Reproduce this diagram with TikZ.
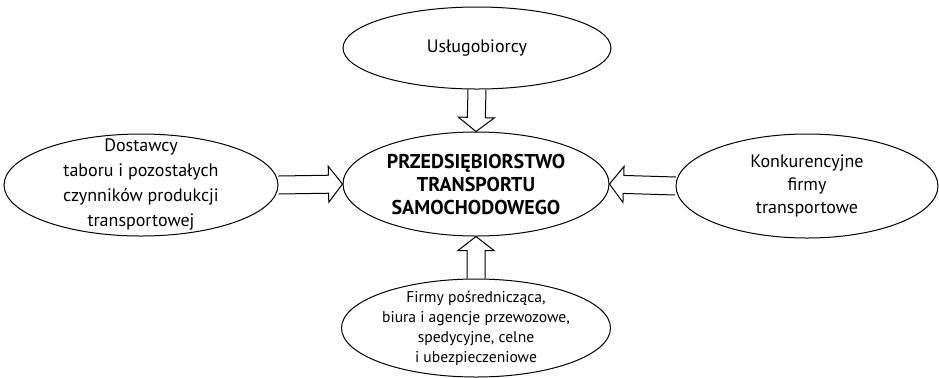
\documentclass[tikz,border=0pt]{standalone}
\usepackage{fontspec}
\setmainfont{PT Sans}
\usetikzlibrary{shapes.geometric,calc}

% hollow block arrow from one node anchor to another
\newcommand{\blockarrow}[2]{%
  \coordinate (headbase) at ($(#2)!7pt!(#1)$);
  \draw[flow] ($(#1)!4.5pt!90:(#2)$) -- ($(headbase)!4.5pt!-90:(#1)$) -- ($(headbase)!9pt!-90:(#1)$) -- (#2)
    -- ($(headbase)!9pt!90:(#1)$) -- ($(headbase)!4.5pt!90:(#1)$) -- ($(#1)!4.5pt!-90:(#2)$);
}

\begin{document}
\begin{tikzpicture}[x=0.5pt, y=-0.5pt,
  oval/.style={ellipse, draw, line width=0.5pt, inner sep=0pt},
  flow/.style={line width=0.5pt, line join=miter},
  txt/.style={align=center, font={\fontsize{9}{12.5}\selectfont}},
  boldtxt/.style={align=center, font={\fontsize{10}{11.5}\selectfont\bfseries}},
  smalltxt/.style={align=center, font={\fontsize{7.8}{10}\selectfont}}]
  \useasboundingbox (0,0) rectangle (939,377);

  % Usługobiorcy
  \node[oval, minimum width=134pt, minimum height=41pt,
    label={[txt]center:Usługobiorcy}] (uslugi) at (477,48) {};

  % Przedsiębiorstwo
  \node[oval, minimum width=133pt, minimum height=52pt,
    label={[boldtxt]center:{PRZEDSIĘBIORSTWO\\TRANSPORTU\\SAMOCHODOWEGO}}] (firma) at (476,184) {};

  % Dostawcy
  \node[oval, minimum width=137pt, minimum height=51pt,
    label={[txt]center:{Dostawcy\\taboru i pozostałych\\czynników produkcji\\transportowej}}] (dostawcy) at (141,185) {};

  % Konkurencja
  \node[oval, minimum width=131pt, minimum height=52pt,
    label={[txt, font={\fontsize{9}{11.5}\selectfont}]center:{Konkurencyjne\\firmy\\transportowe}}] (konkurencja) at (807,186) {};

  % Pośrednicy
  \node[oval, minimum width=134.5pt, minimum height=49pt,
    label={[smalltxt]center:{Firmy pośrednicząca,\\biura i agencje przewozowe,\\spedycyjne, celne\\i ubezpieczeniowe}}] (posrednicy) at (476,328) {};

  % Arrows
  \blockarrow{uslugi.south}{firma.north}
  \blockarrow{dostawcy.east}{firma.west}
  \blockarrow{konkurencja.west}{firma.east}
  \blockarrow{posrednicy.north}{firma.south}
\end{tikzpicture}
\end{document}
